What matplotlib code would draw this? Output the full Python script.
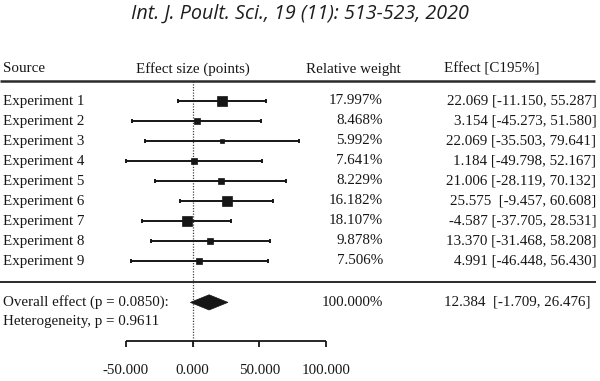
import matplotlib.pyplot as plt
import numpy as np
from matplotlib.patches import Polygon

# data
sources = ["Experiment 1", "Experiment 2", "Experiment 3", "Experiment 4",
           "Experiment 5", "Experiment 6", "Experiment 7", "Experiment 8",
           "Experiment 9"]
effects = [22.069, 3.154, 22.069, 1.184, 21.006, 25.575, -4.587, 13.370, 4.991]
ci_low = [-11.150, -45.273, -35.503, -49.798, -28.119, -9.457, -37.705, -31.468, -46.448]
ci_high = [55.287, 51.580, 79.641, 52.167, 70.132, 60.608, 28.531, 58.208, 56.430]
weights = [17.997, 8.468, 5.992, 7.641, 8.229, 16.182, 18.107, 9.878, 7.506]
effect_labels = ["22.069 [-11.150, 55.287]", "3.154 [-45.273, 51.580]",
                 "22.069 [-35.503, 79.641]", "1.184 [-49.798, 52.167]",
                 "21.006 [-28.119, 70.132]", "25.575  [-9.457, 60.608]",
                 "-4.587 [-37.705, 28.531]", "13.370 [-31.468, 58.208]",
                 "4.991 [-46.448, 56.430]"]
overall_effect = 12.384
overall_low = -1.709
overall_high = 26.476
axis_ticks = [-50, 0, 50, 100]

ink = "#161616"
serif = "Liberation Serif"
fs = 10.8

fig = plt.figure(figsize=(6.0, 3.81), dpi=100)
ax = fig.add_axes([0, 0, 1, 1])
ax.set_axis_off()
# x in effect units (0 at ~193 px, 1.333 px per unit), y in rows (20 px each)
ax.set_xlim(-144.5, 305.6)
ax.set_ylim(14.0, -5.05)
tx = ax.get_yaxis_transform()  # x in figure fraction, y in rows

rows = np.arange(len(sources))

# title
ax.text(0.5, -4.35, "Int. J. Poult. Sci., 19 (11): 513-523, 2020", transform=tx,
        ha="center", va="center", fontsize=14.2, family="Open Sans",
        style="italic", color="#1e1e1e")

# header
hdr_y = -1.6
ax.text(0.005, hdr_y, "Source", transform=tx, ha="left", va="center",
        family=serif, fontsize=fs, color=ink)
ax.text(0.227, hdr_y, "Effect size (points)", transform=tx, ha="left", va="center",
        family=serif, fontsize=fs, color=ink)
ax.text(0.51, hdr_y, "Relative weight", transform=tx, ha="left", va="center",
        family=serif, fontsize=fs, color=ink)
ax.text(0.74, hdr_y, "Effect [C195%]", transform=tx, ha="left", va="center",
        family=serif, fontsize=fs, color=ink)

# rules
ax.plot([0.0, 0.992], [-1.0, -1.0], transform=tx, color="#2b2b2b", lw=1.8,
        solid_capstyle="butt")
ax.plot([0.0, 0.993], [9.03, 9.03], transform=tx, color="#2b2b2b", lw=1.4,
        solid_capstyle="butt")

# reference line at zero
ax.plot([0, 0], [-1.0, 12.3], color="#444444", lw=0.9, ls=(0, (1, 1.2)), zorder=1)

# confidence intervals and squares
xerr = [np.array(effects) - np.array(ci_low), np.array(ci_high) - np.array(effects)]
ax.errorbar(effects, rows, xerr=xerr, fmt="none", ecolor=ink, elinewidth=1.4,
            capsize=1.3, capthick=1.4, zorder=2)
for i in rows:
    side_px = 2.0 + 0.45 * weights[i]
    ax.plot(effects[i], i, marker="s", ms=side_px * 0.72, color=ink, mec=ink,
            mew=0.5, zorder=3)

# row labels and columns
for i in rows:
    ax.text(0.005, i, sources[i], transform=tx, ha="left", va="center",
            family=serif, fontsize=fs, color=ink)
    ax.text(0.638, i, f"{weights[i]:.3f}%", transform=tx, ha="right", va="center",
            family=serif, fontsize=fs, color=ink)
    ax.text(0.994, i, effect_labels[i], transform=tx, ha="right", va="center",
            family=serif, fontsize=fs, color=ink)

# overall effect diamond
oy = 10.07
diamond = Polygon([(overall_low, oy), (overall_effect, oy - 0.38),
                   (overall_high, oy), (overall_effect, oy + 0.38)],
                  closed=True, facecolor=ink, edgecolor=ink, lw=0.5, zorder=3)
ax.add_patch(diamond)
ax.text(0.005, oy, "Overall effect (p = 0.0850):", transform=tx, ha="left",
        va="center", family=serif, fontsize=fs, color=ink)
ax.text(0.638, oy, "100.000%", transform=tx, ha="right", va="center",
        family=serif, fontsize=fs, color=ink)
ax.text(0.984, oy, f"{overall_effect:.3f}  [{overall_low:.3f}, {overall_high:.3f}]",
        transform=tx, ha="right", va="center", family=serif, fontsize=fs, color=ink)
ax.text(0.005, 11.03, "Heterogeneity, p = 0.9611", transform=tx, ha="left",
        va="center", family=serif, fontsize=fs, color=ink)

# effect-size axis
axis_y = 11.98
ax.plot([axis_ticks[0], axis_ticks[-1]], [axis_y, axis_y], color=ink, lw=1.3,
        solid_capstyle="butt")
ax.vlines(axis_ticks, axis_y, axis_y + 0.3, color=ink, lw=1.3)
for t in axis_ticks:
    ax.text(t, 13.45, f"{t:.3f}", ha="center", va="center", family=serif,
            fontsize=fs, color=ink)

fig.savefig("out.png", dpi=100, facecolor="white")
